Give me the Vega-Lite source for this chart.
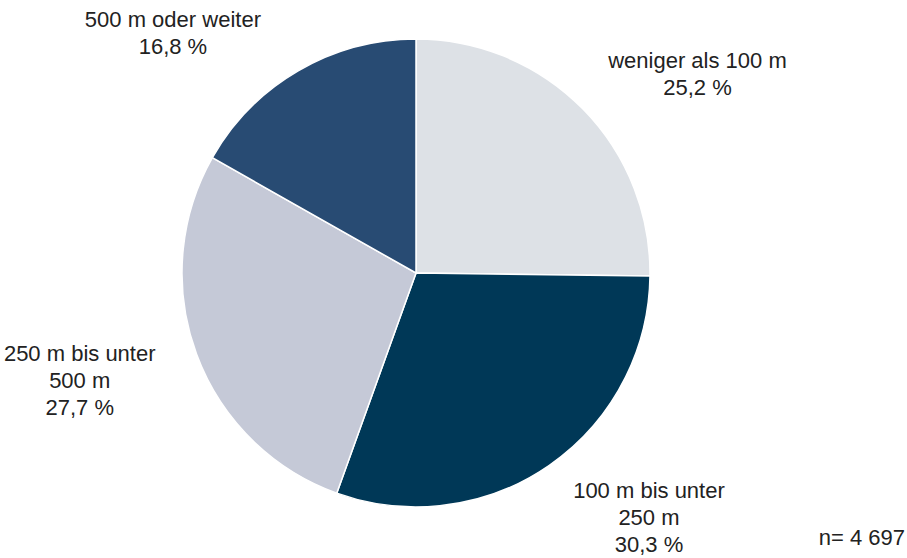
{
  "$schema": "https://vega.github.io/schema/vega-lite/v6.json",
  "autosize": "none",
  "width": 832,
  "height": 546,
  "padding": {"left": 0, "right": 75, "top": 0, "bottom": 12},
  "background": "white",
  "config": {"view": {"stroke": null}, "font": "Liberation Sans"},
  "data": {"values": [
    {"rang": 1, "kategorie": "weniger als 100 m", "anteil": 25.2, "label": "weniger als 100 m|25,2 %"},
    {"rang": 2, "kategorie": "100 m bis unter 250 m", "anteil": 30.3, "label": "100 m bis unter|250 m|30,3 %"},
    {"rang": 3, "kategorie": "250 m bis unter 500 m", "anteil": 27.7, "label": "250 m bis unter|500 m|27,7 %"},
    {"rang": 4, "kategorie": "500 m oder weiter", "anteil": 16.8, "label": "500 m oder weiter|16,8 %"}
  ]},
  "encoding": {
    "theta": {"field": "anteil", "type": "quantitative", "stack": true},
    "order": {"field": "rang", "type": "quantitative"}
  },
  "layer": [
    {
      "mark": {"type": "arc", "outerRadius": 234, "stroke": "white", "strokeWidth": 1.5},
      "encoding": {
        "color": {
          "field": "kategorie", "type": "nominal", "legend": null,
          "scale": {
            "domain": ["weniger als 100 m", "100 m bis unter 250 m", "250 m bis unter 500 m", "500 m oder weiter"],
            "range": ["#dde1e6", "#003857", "#c5c9d7", "#284b73"]
          }
        }
      }
    },
    {
      "mark": {"type": "text", "radius": 300, "dx": 68, "dy": -1, "fontSize": 22, "lineBreak": "|", "lineHeight": 27, "color": "#222222", "align": "center", "baseline": "middle"},
      "encoding": {"text": {"condition": {"test": "datum.rang == 1", "field": "label"}, "value": ""}}
    },
    {
      "mark": {"type": "text", "radius": 300, "dx": 62, "dy": -29, "fontSize": 22, "lineBreak": "|", "lineHeight": 27, "color": "#222222", "align": "center", "baseline": "middle"},
      "encoding": {"text": {"condition": {"test": "datum.rang == 2", "field": "label"}, "value": ""}}
    },
    {
      "mark": {"type": "text", "radius": 300, "dx": -55, "dy": -23, "fontSize": 22, "lineBreak": "|", "lineHeight": 27, "color": "#222222", "align": "center", "baseline": "middle"},
      "encoding": {"text": {"condition": {"test": "datum.rang == 3", "field": "label"}, "value": ""}}
    },
    {
      "mark": {"type": "text", "radius": 300, "dx": -92, "dy": 6, "fontSize": 22, "lineBreak": "|", "lineHeight": 27, "color": "#222222", "align": "center", "baseline": "middle"},
      "encoding": {"text": {"condition": {"test": "datum.rang == 4", "field": "label"}, "value": ""}}
    }
  ],
  "title": {
    "text": "n= 4 697",
    "orient": "bottom",
    "anchor": "end",
    "fontSize": 22,
    "fontWeight": "normal",
    "color": "#222222",
    "font": "Liberation Sans",
    "dx": 73,
    "offset": -28
  }
}
